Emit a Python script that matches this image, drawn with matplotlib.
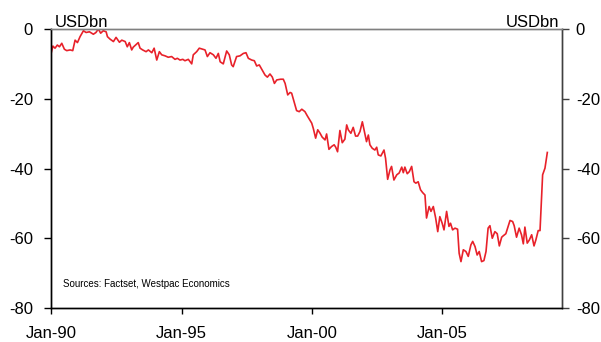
# Chart: USD bn series, Jan-90 to end-2008, with mirrored y axis on the right.
# Values (decimal year, USD bn).

import numpy as np
import matplotlib.pyplot as plt

# DATA ---------------------------------------------------------------------------------------------
years = [
    1990.00, 1990.07, 1990.15, 1990.24, 1990.32, 1990.41, 1990.51, 1990.60, 1990.73, 1990.83,
    1990.92, 1991.01, 1991.11, 1991.24, 1991.34, 1991.47, 1991.62, 1991.72, 1991.81, 1991.90,
    1992.00, 1992.11, 1992.16, 1992.26, 1992.39, 1992.49, 1992.62, 1992.71, 1992.84, 1992.92,
    1993.00, 1993.09, 1993.15, 1993.34, 1993.41, 1993.51, 1993.64, 1993.73, 1993.86, 1993.95,
    1994.05, 1994.15, 1994.24, 1994.37, 1994.49, 1994.62, 1994.75, 1994.84, 1994.94, 1995.05,
    1995.13, 1995.26, 1995.39, 1995.45, 1995.58, 1995.68, 1995.81, 1995.90, 1995.99, 1996.09,
    1996.22, 1996.32, 1996.41, 1996.48, 1996.60, 1996.73, 1996.83, 1996.92, 1996.98, 1997.11,
    1997.24, 1997.37, 1997.47, 1997.56, 1997.69, 1997.79, 1997.88, 1997.98, 1998.07, 1998.20,
    1998.29, 1998.39, 1998.48, 1998.56, 1998.65, 1998.80, 1998.90, 1998.97, 1999.07, 1999.16,
    1999.22, 1999.31, 1999.41, 1999.51, 1999.61, 1999.73, 1999.82, 1999.92, 1999.99, 2000.05,
    2000.14, 2000.22, 2000.31, 2000.39, 2000.50, 2000.56, 2000.65, 2000.75, 2000.85, 2000.91,
    2000.98, 2001.07, 2001.16, 2001.26, 2001.33, 2001.39, 2001.49, 2001.58, 2001.67, 2001.75,
    2001.84, 2001.93, 2002.00, 2002.09, 2002.16, 2002.22, 2002.31, 2002.41, 2002.48, 2002.54,
    2002.64, 2002.76, 2002.82, 2002.90, 2002.99, 2003.05, 2003.14, 2003.25, 2003.34, 2003.44,
    2003.50, 2003.56, 2003.65, 2003.73, 2003.82, 2003.91, 2003.98, 2004.07, 2004.16, 2004.24,
    2004.33, 2004.39, 2004.49, 2004.56, 2004.65, 2004.74, 2004.82, 2004.90, 2004.99, 2005.06,
    2005.16, 2005.25, 2005.31, 2005.39, 2005.48, 2005.58, 2005.64, 2005.71, 2005.80, 2005.90,
    2005.99, 2006.09, 2006.16, 2006.25, 2006.33, 2006.41, 2006.50, 2006.59, 2006.67, 2006.75,
    2006.82, 2006.91, 2007.01, 2007.10, 2007.18, 2007.27, 2007.33, 2007.43, 2007.52, 2007.59,
    2007.69, 2007.75, 2007.84, 2007.94, 2008.03, 2008.10, 2008.16, 2008.25, 2008.33, 2008.42,
    2008.51, 2008.58, 2008.67, 2008.74, 2008.84, 2008.93, 2009.02,
]
values = [
    -7.0, -4.9, -5.5, -4.6, -5.1, -4.1, -5.8, -6.2, -6.0, -6.2,
    -3.2, -3.9, -2.2, -0.5, -1.0, -0.8, -1.5, -1.0, 0.0, -1.2,
    -0.5, -0.8, -2.2, -2.9, -3.6, -2.4, -3.8, -3.2, -3.6, -5.1,
    -3.9, -6.0, -5.2, -3.9, -5.5, -6.0, -6.5, -6.0, -6.8, -5.5,
    -8.9, -6.5, -7.4, -7.7, -8.1, -7.9, -8.7, -8.4, -8.9, -8.7,
    -9.1, -8.7, -10.0, -7.4, -6.5, -5.5, -5.8, -6.0, -7.9, -6.8,
    -7.4, -8.4, -7.0, -9.4, -10.0, -6.3, -7.4, -10.3, -10.8, -7.9,
    -7.7, -7.0, -6.8, -8.4, -8.9, -9.1, -10.6, -10.3, -11.5, -13.2,
    -13.8, -12.9, -13.8, -15.6, -14.6, -14.4, -14.4, -15.6, -18.9, -18.2,
    -18.4, -20.8, -23.4, -23.7, -23.0, -23.7, -24.9, -26.1, -27.0, -28.5,
    -31.3, -28.9, -29.9, -31.0, -31.8, -30.1, -34.5, -33.7, -33.2, -33.9,
    -35.2, -29.1, -32.6, -31.6, -27.5, -28.9, -29.9, -28.2, -30.7, -30.7,
    -29.4, -26.6, -29.1, -32.3, -30.4, -33.2, -34.2, -34.7, -33.9, -36.1,
    -36.4, -34.7, -37.1, -43.1, -40.4, -39.4, -43.3, -41.8, -41.3, -39.6,
    -41.2, -39.6, -41.5, -40.9, -39.4, -43.8, -44.2, -43.8, -46.1, -46.9,
    -47.6, -54.2, -50.9, -52.3, -50.9, -54.2, -58.1, -53.8, -55.7, -57.6,
    -52.3, -56.6, -55.7, -57.6, -57.1, -57.4, -64.3, -66.7, -63.3, -63.8,
    -65.2, -61.9, -60.9, -62.4, -64.8, -63.8, -66.7, -66.4, -63.8, -57.1,
    -56.4, -60.0, -58.1, -58.7, -62.2, -59.7, -59.3, -58.7, -56.6, -54.9,
    -55.2, -56.4, -59.7, -57.1, -59.0, -61.6, -56.8, -61.4, -60.5, -59.0,
    -62.2, -60.5, -57.8, -57.8, -41.8, -39.9, -35.4,
]
tick_years = [1990, 1995, 2000, 2005]
tick_labels = ['Jan-90', 'Jan-95', 'Jan-00', 'Jan-05']
y_ticks = [0, -20, -40, -60, -80]
# --------------------------------------------------------------------------------------------------

plt.rcParams['font.family'] = ['Liberation Sans', 'DejaVu Sans']

fig = plt.figure(figsize=(6.01, 3.42), dpi=100)
ax = fig.add_axes([0.085, 0.0994, 0.850, 0.8158])

ax.plot(years, values, color='#E8212A', lw=1.2)

ax.set_xlim(1990, 2009.58)
ax.set_ylim(-80, 0)
ax.set_xticks(tick_years)
ax.set_xticklabels(tick_labels, fontsize=12)
ax.set_yticks(y_ticks)
ax.set_yticklabels([str(v) for v in y_ticks], fontsize=12)
ax.tick_params(axis='x', direction='out', length=4, width=1, pad=9, colors='#000000')
ax.tick_params(axis='y', direction='out', length=5, width=1, pad=8)

ax2 = ax.twinx()
ax2.set_ylim(-80, 0)
ax2.set_yticks(y_ticks)
ax2.set_yticklabels([str(v) for v in y_ticks], fontsize=12)
ax2.tick_params(axis='y', direction='out', length=5, width=1, pad=5, color='#404040')

for a in (ax, ax2):
    a.spines['top'].set_color('#808080')
    a.spines['left'].set_color('#000000')
    a.spines['bottom'].set_color('#000000')
    a.spines['right'].set_color('#404040')
    for s in a.spines.values():
        s.set_linewidth(1.0)

ax.text(0.008, 0.995, 'USDbn', transform=ax.transAxes, ha='left', va='bottom', fontsize=12)
ax.text(0.995, 0.995, 'USDbn', transform=ax.transAxes, ha='right', va='bottom', fontsize=12)
ax.text(0.024, 0.085, 'Sources: Factset, Westpac Economics', transform=ax.transAxes,
        ha='left', va='center', fontsize=7)

fig.savefig('out.png', dpi=100)
